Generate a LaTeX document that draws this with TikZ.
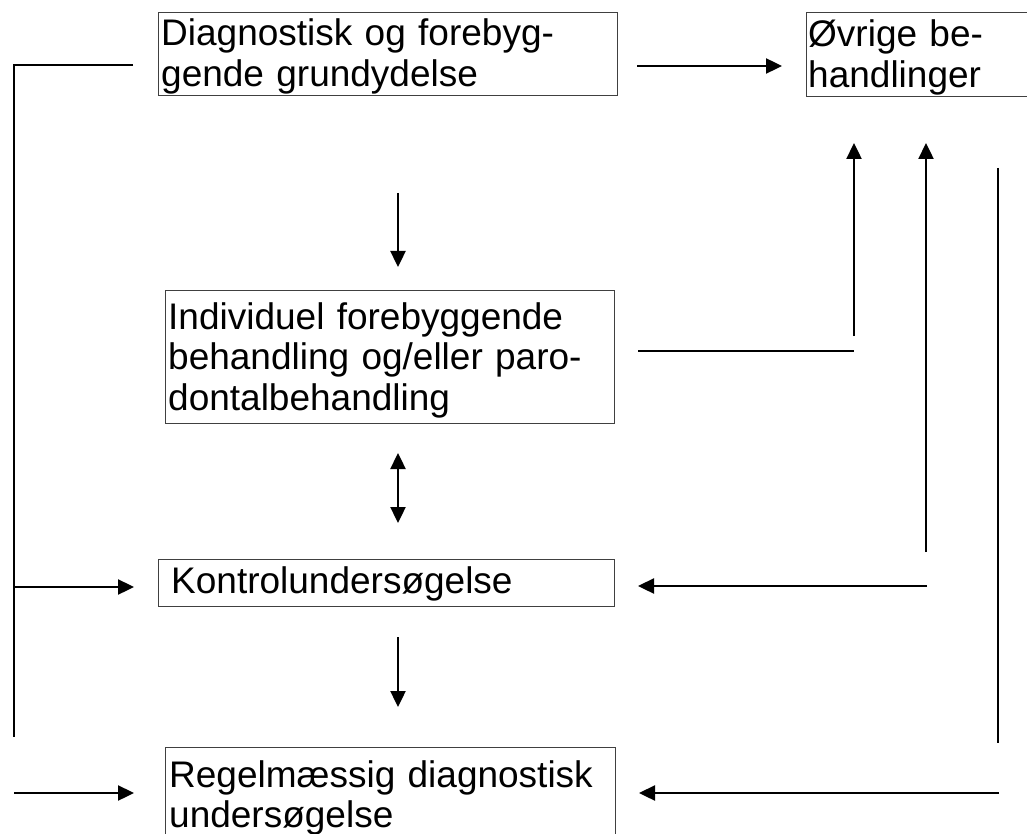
\documentclass[tikz,border=0pt]{standalone}
\usepackage{fontspec}
\setmainfont{Liberation Sans}
\usetikzlibrary{arrows.meta}
\begin{document}
\begin{tikzpicture}[x=1pt,y=-1pt,
  box/.style={draw=black!75, line width=1.2pt, inner sep=0pt, anchor=north west},
  txt/.style={inner sep=0pt, anchor=base west, align=left, text width=470pt,
              font=\fontsize{37}{40.5}\selectfont},
  conn/.style={line width=2.4pt},
  arr/.style={conn, -{Triangle[length=16pt,width=15pt]}},
  darr/.style={conn, {Triangle[length=16pt,width=15pt]}-{Triangle[length=16pt,width=15pt]}}]
\useasboundingbox (0,0) rectangle (1027,834);

% boxes
\node[box, minimum width=459pt, minimum height=83pt] (diag) at (158,12) {};
\node[box, minimum width=220.5pt, minimum height=84pt] (ovr) at (806,12) {};
\node[box, minimum width=449pt, minimum height=133pt] (indiv) at (165,290) {};
\node[box, minimum width=456pt, minimum height=47pt] (kontrol) at (158,559) {};
\node[box, minimum width=450pt, minimum height=100pt] (regel) at (165,747) {};

% texts
\node[txt] (diagT) at (161,46) {Diagnostisk og forebyg-\\gende grundydelse};
\node[txt] (ovrT) at (808,47) {Øvrige be-\\handlinger};
\node[txt] (indivT) at (168,329) {Individuel forebyggende\\behandling og/eller paro-\\dontalbehandling};
\node[txt] (kontrolT) at (171,593) {Kontrolundersøgelse};
\node[txt] (regelT) at (169,787) {Regelmæssig diagnostisk\\undersøgelse};

% coordinates
\coordinate (a1s) at (637,66);   \coordinate (a1e) at (782,66);
\coordinate (a2s) at (398,193);  \coordinate (a2e) at (398,267);
\coordinate (dbs) at (398,453);  \coordinate (dbe) at (398,523);
\coordinate (a3s) at (398,637);  \coordinate (a3e) at (398,707);
\coordinate (l1) at (133,65);    \coordinate (l2) at (14,65);   \coordinate (l3) at (14,737);
\coordinate (k1s) at (14,587);   \coordinate (k1e) at (134,587);
\coordinate (r1s) at (14,793);   \coordinate (r1e) at (134,793);
\coordinate (h1s) at (638,351);  \coordinate (h1e) at (854,351);
\coordinate (u1s) at (854,336);  \coordinate (u1e) at (854,143);
\coordinate (u2s) at (926,552);  \coordinate (u2e) at (926,143);
\coordinate (k2s) at (927,586);  \coordinate (k2e) at (638,586);
\coordinate (v1s) at (998,168);  \coordinate (v1e) at (998,743);
\coordinate (r2s) at (999,793);  \coordinate (r2e) at (639,793);

% connectors
\draw[arr] (a1s) -- (a1e);
\draw[arr] (a2s) -- (a2e);
\draw[darr] (dbs) -- (dbe);
\draw[arr] (a3s) -- (a3e);
\draw[conn] (l1) -- (l2) -- (l3);
\draw[arr] (k1s) -- (k1e);
\draw[arr] (r1s) -- (r1e);
\draw[conn] (h1s) -- (h1e);
\draw[arr] (u1s) -- (u1e);
\draw[arr] (u2s) -- (u2e);
\draw[arr] (k2s) -- (k2e);
\draw[conn] (v1s) -- (v1e);
\draw[arr] (r2s) -- (r2e);
\end{tikzpicture}
\end{document}
